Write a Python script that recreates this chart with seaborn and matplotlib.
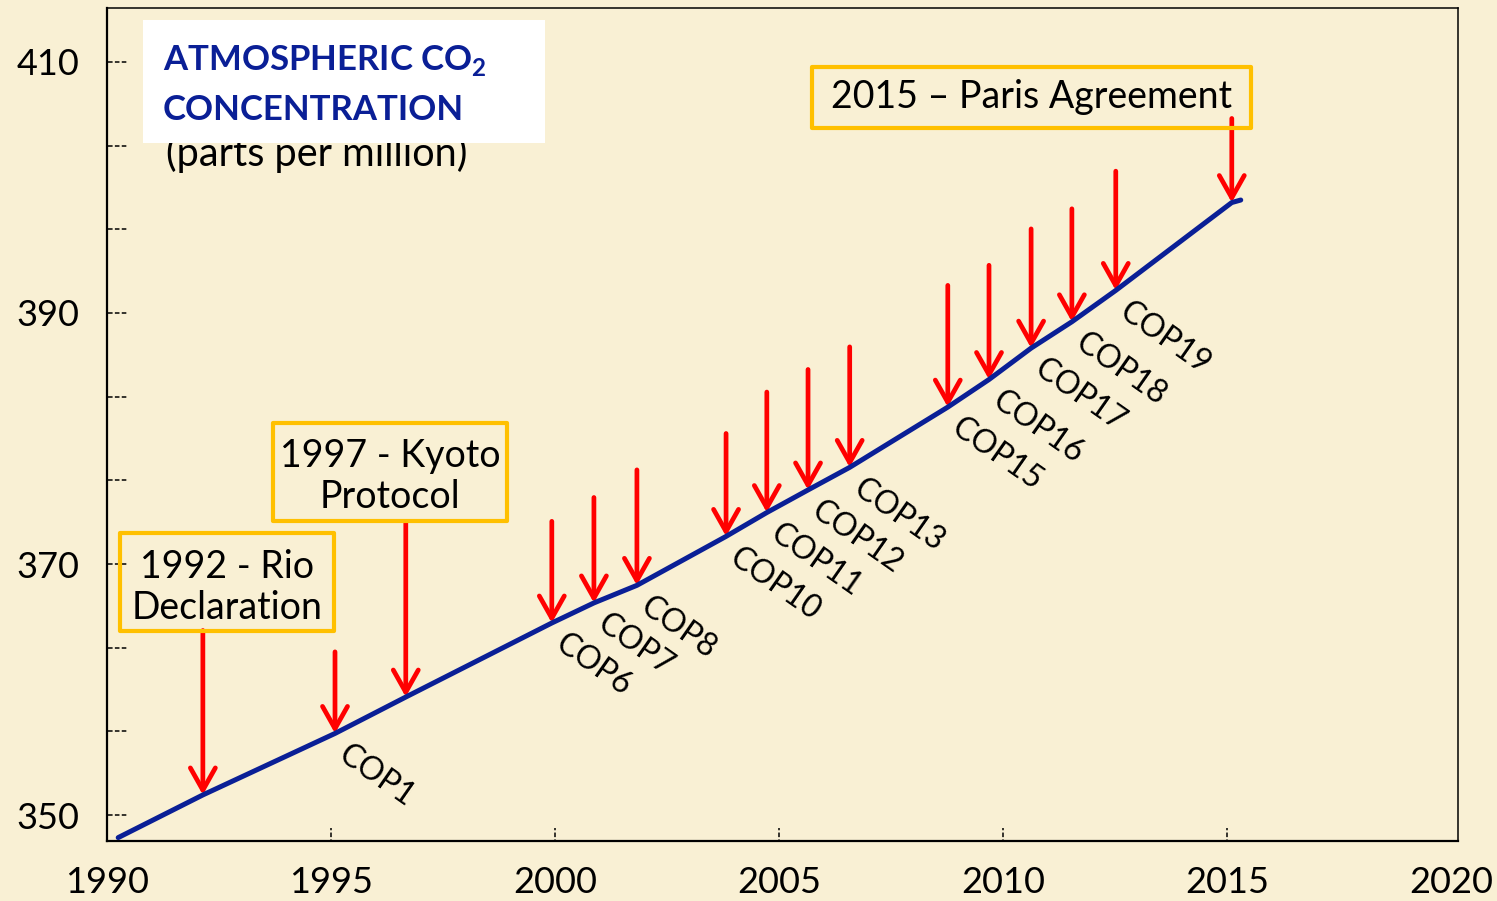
import numpy as np
import pandas as pd
import matplotlib.pyplot as plt
from matplotlib.patches import Rectangle
import seaborn as sns

sns.set_theme(style="white")
plt.rcParams['font.family'] = ['Lato', 'DejaVu Sans']
plt.rcParams['mathtext.fontset'] = 'custom'
plt.rcParams['mathtext.rm'] = 'Lato'
plt.rcParams['mathtext.bf'] = 'Lato:bold'

# CO2 curve (year, ppm)
line_years = [1990.25, 1992.14, 1995.09, 1996.67, 1999.93, 2000.87, 2001.83, 2003.82,
              2004.73, 2005.65, 2006.58, 2008.77, 2009.69, 2010.63, 2011.54, 2012.52,
              2015.11, 2015.31]
line_ppm = [348.2, 351.6, 356.5, 359.4, 365.3, 366.9, 368.3, 372.2,
            374.1, 375.9, 377.7, 382.5, 384.7, 387.2, 389.3, 391.8,
            398.8, 399.0]

# events: arrow end on the curve and arrow start
event_names = ['Rio', 'COP1', 'Kyoto', 'COP6', 'COP7', 'COP8', 'COP10', 'COP11',
               'COP12', 'COP13', 'COP15', 'COP16', 'COP17', 'COP18', 'COP19', 'Paris']
event_years = [1992.14, 1995.09, 1996.67, 1999.93, 2000.87, 2001.83, 2003.82, 2004.73,
               2005.65, 2006.58, 2008.77, 2009.69, 2010.63, 2011.54, 2012.52, 2015.11]
event_ppm = [351.6, 356.5, 359.4, 365.3, 366.9, 368.3, 372.2, 374.1,
             375.9, 377.7, 382.5, 384.7, 387.2, 389.3, 391.8, 398.8]
arrow_top = [364.7, 363.0, 373.4, 373.4, 375.3, 377.5, 380.4, 383.7,
             385.5, 387.3, 392.2, 393.8, 396.7, 398.3, 401.3, 405.5]

x_ticks = [1990, 1995, 2000, 2005, 2010, 2015, 2020]
y_ticks = [350, 370, 390, 410]
y_dashes = [350, 356.67, 363.33, 370, 376.67, 383.33, 390, 396.67, 403.33, 410]

bg = '#F9F0D4'
navy = '#0A1F96'
gold = '#FFC000'

df = pd.DataFrame({'year': line_years, 'ppm': line_ppm})

fig = plt.figure(figsize=(14.97, 9.01), dpi=100, facecolor=bg)
ax = fig.add_axes([107/1497, 60/901, 1351/1497, 833.5/901])
ax.set_facecolor(bg)

# red arrows
for x, y, top in zip(event_years, event_ppm, arrow_top):
    ax.annotate('', xy=(x, y), xytext=(x, top),
                arrowprops=dict(arrowstyle='->,head_length=0.8,head_width=0.45',
                                color='#FF0000', lw=3.4, mutation_scale=20,
                                shrinkA=0, shrinkB=0), zorder=2)

sns.lineplot(data=df, x='year', y='ppm', sort=False, estimator=None,
             color=navy, lw=3.6, ax=ax, zorder=3)

# COP labels under the curve
for name, x, y in zip(event_names, event_years, event_ppm):
    if name.startswith('COP'):
        ax.annotate(name, xy=(x, y), xytext=(11, -4), textcoords='offset points',
                    rotation=-35, rotation_mode='anchor', ha='left', va='top',
                    fontsize=23, color='black')

# boxed milestones
boxes = [((1990.29, 364.66), 4.78, 7.81, '1992 - Rio\nDeclaration', -0.45),
         ((1993.71, 373.43), 5.22, 7.81, '1997 - Kyoto\nProtocol', -0.35),
         ((2005.74, 404.74), 9.80, 4.86, '2015 \u2013 Paris Agreement', 0.0)]
for (x0, y0), w, h, label, dy in boxes:
    ax.add_patch(Rectangle((x0, y0), w, h, fill=False, ec=gold, lw=3,
                           joinstyle='round', zorder=4))
    ax.text(x0 + w / 2, y0 + h / 2 + dy, label, ha='center', va='center',
            fontsize=27, linespacing=1.15, color='black', zorder=4)

# title block
ax.text((166 - 107) / 1351, (841 - 166) / 833.5, '(parts per million)',
        transform=ax.transAxes, ha='left', va='baseline', fontsize=28.5, color='black')
ax.add_patch(Rectangle(((143 - 107) / 1351, (841 - 143) / 833.5), 402 / 1351, 123 / 833.5,
                       transform=ax.transAxes, fc='white', ec='none', zorder=5))
ax.text((163 - 107) / 1351, (841 - 70) / 833.5, r'ATMOSPHERIC CO$_\mathbf{2}$',
        transform=ax.transAxes, ha='left', va='baseline', fontsize=25,
        fontweight='bold', color=navy, zorder=6)
ax.text((163 - 107) / 1351, (841 - 120) / 833.5, 'CONCENTRATION',
        transform=ax.transAxes, ha='left', va='baseline', fontsize=25,
        fontweight='bold', color=navy, zorder=6)

# dashed tick marks
ax.hlines(y_dashes, 0.001, 0.015, transform=ax.get_yaxis_transform(),
          colors='black', lw=1.1, linestyles=(0, (3, 1.5)))
ax.vlines(x_ticks[:-1], -0.004, 0.016, transform=ax.get_xaxis_transform(),
          colors='black', lw=1.1, linestyles=(0, (3, 1.5)))

ax.set_xlim(1990, 2020.16)
ax.set_ylim(347.93, 414.34)
ax.set_xticks(x_ticks)
ax.set_yticks(y_ticks)
ax.tick_params(axis='both', length=0, labelsize=26, colors='black')
ax.tick_params(axis='y', pad=20)
ax.tick_params(axis='x', pad=18)
ax.set_xlabel('')
ax.set_ylabel('')
for side in ['left', 'bottom']:
    ax.spines[side].set_color('black')
    ax.spines[side].set_linewidth(1.6)
for side in ['top', 'right']:
    ax.spines[side].set_color('black')
    ax.spines[side].set_linewidth(1.1)

fig.savefig('out.png', dpi=100, facecolor=bg)
